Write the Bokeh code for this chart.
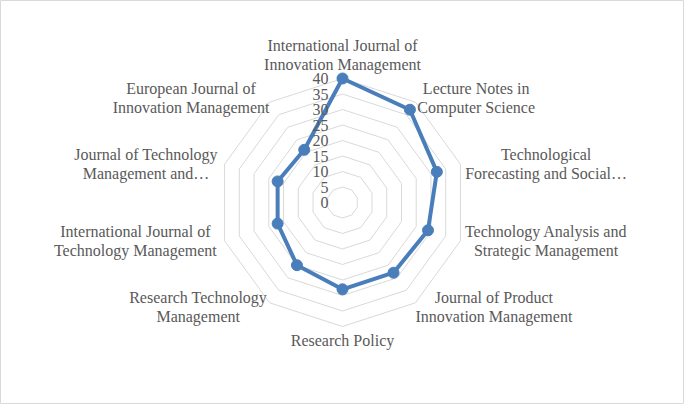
import numpy as np
from bokeh.plotting import figure
from bokeh.models import Range1d
from bokeh.core.properties import value
from bokeh.embed import file_html
from bokeh.resources import INLINE

# journals, clockwise from the top
journals = ["International Journal of\nInnovation Management",
	"Lecture Notes in\nComputer Science",
	"Technological\nForecasting and Social\u2026",
	"Technology Analysis and\nStrategic Management",
	"Journal of Product\nInnovation Management",
	"Research Policy",
	"Research Technology\nManagement",
	"International Journal of\nTechnology Management",
	"Journal of Technology\nManagement and\u2026",
	"European Journal of\nInnovation Management"]
counts = [40, 37, 32, 29, 28, 28, 25, 22, 22, 21]
ticks = [0, 5, 10, 15, 20, 25, 30, 35, 40]

W, H = 684, 404
k = 3.1  # px per unit
FONT = "Liberation Serif"
FS = 16
CHAR = 7.1  # rough px per character at FS
GREY = "#595959"
BLUE = "#4A7EBB"

p = figure(width=W, height=H, output_backend="svg", toolbar_location=None,
	x_range=Range1d(-W/2/k, W/2/k), y_range=Range1d(-H/2/k, H/2/k),
	min_border=0)
p.axis.visible = False
p.grid.visible = False
p.outline_line_color = "#d9d9d9"
p.outline_line_width = 1
p.background_fill_color = "white"
p.border_fill_color = "white"

n = len(journals)
ang = np.arange(n)*2*np.pi/n
sx = np.sin(ang)
cy = np.cos(ang)

#rings
xs, ys = [], []
for t in ticks[1:]:
	xs.append(list(t*sx)+[t*sx[0]])
	ys.append(list(t*cy)+[t*cy[0]])
p.multi_line(xs=xs, ys=ys, line_color="#d9d9d9", line_width=1)

#series
v = np.array(counts, dtype=float)
px = list(v*sx)+[v[0]*sx[0]]
py = list(v*cy)+[v[0]*cy[0]]
p.line(px, py, line_color=BLUE, line_width=4, line_join="round")
p.scatter(v*sx, v*cy, size=11, fill_color=BLUE, line_color=BLUE)

#tick labels
p.text(x=[-14/k]*len(ticks), y=ticks, text=[str(t) for t in ticks],
	text_font=value(FONT), text_font_size="%dpx" % FS, text_color=GREY,
	text_align="right", text_baseline="middle")

#category labels, lines centred inside each block
R = ticks[-1]
for i in range(n):
	x0 = R*sx[i]
	y0 = R*cy[i]
	half = max(len(s) for s in journals[i].split("\n"))*CHAR/2
	if abs(sx[i]) < 0.01:
		if cy[i] > 0:
			y0 += 5/k
			base = "bottom"
		else:
			y0 -= 5/k
			base = "top"
	else:
		base = "middle"
		if sx[i] > 0:
			x0 += (4+half)/k
		else:
			x0 -= (4+half)/k
		if cy[i] > 0.5:
			y0 += 4/k
		elif cy[i] < -0.5:
			y0 -= 4/k
	p.text(x=[x0], y=[y0], text=[journals[i]], text_font=value(FONT),
		text_font_size="%dpx" % FS, text_color=GREY, text_align="center",
		text_baseline=base, text_line_height=1.15)

open("out.html", "w").write(file_html(p, INLINE))
